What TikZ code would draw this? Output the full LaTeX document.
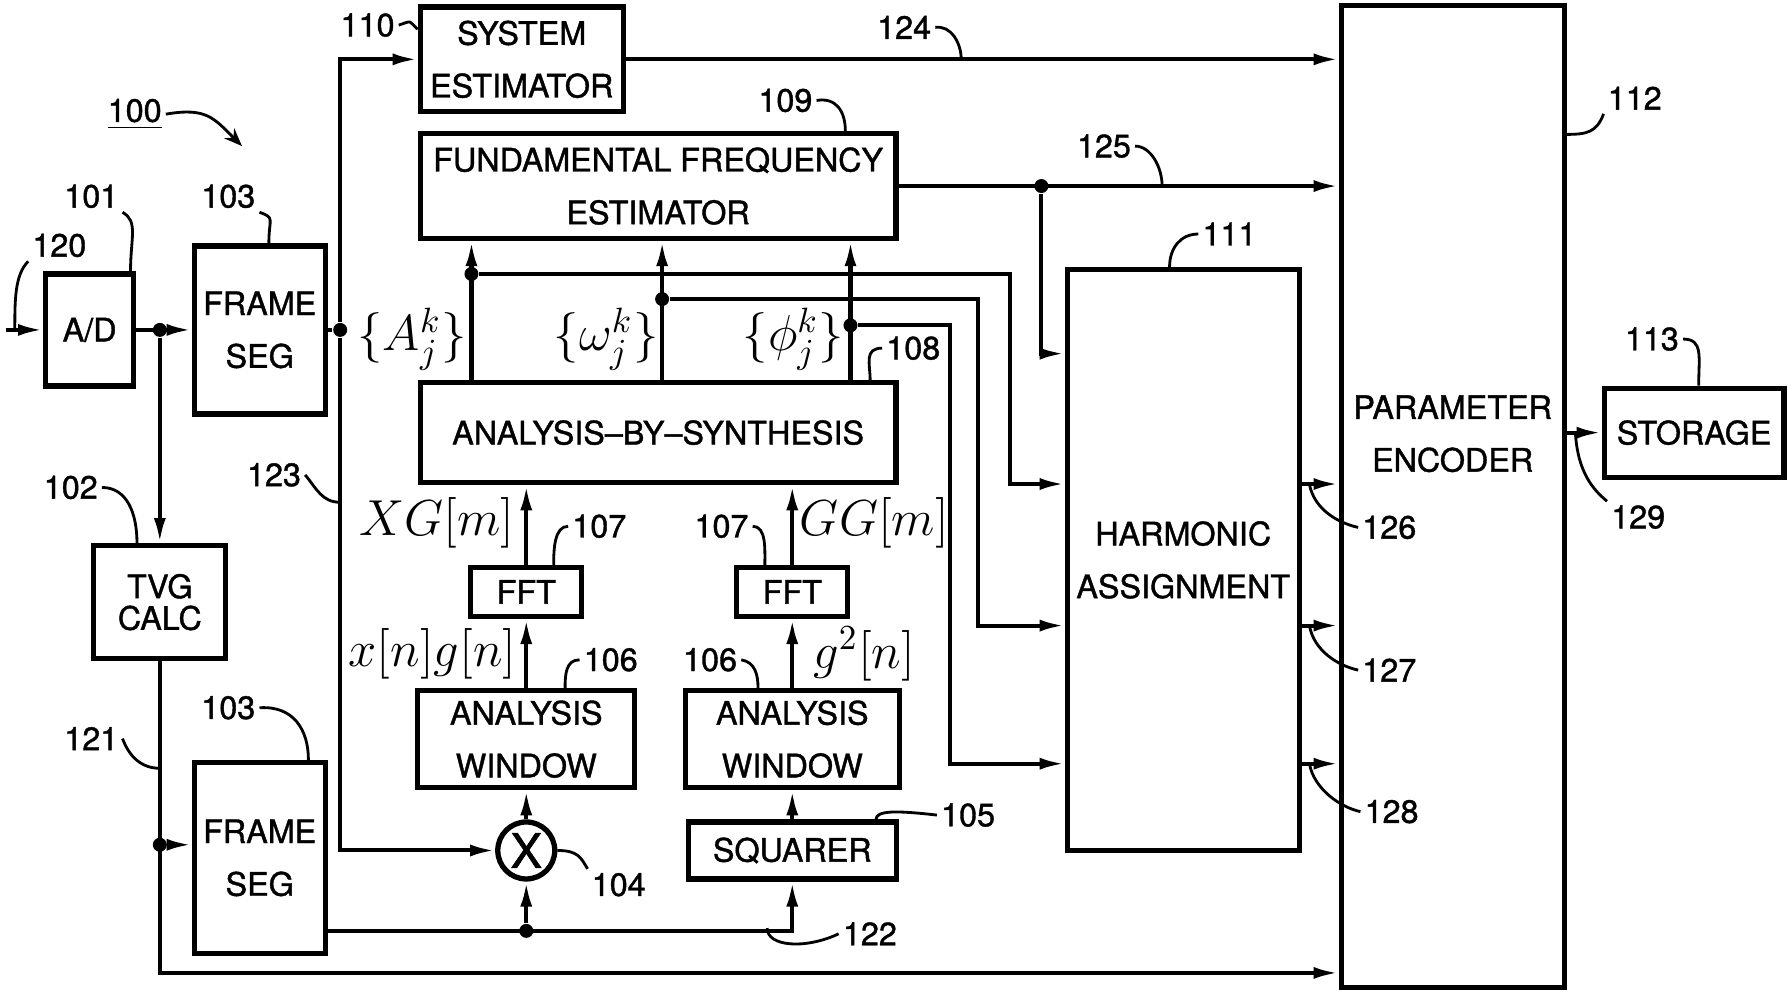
\documentclass[tikz,border=0pt]{standalone}
\usepackage[no-math]{fontspec}
\setmainfont{TeX Gyre Heros}[FakeBold=1.2]
\usetikzlibrary{arrows.meta, calc}

\begin{document}
\begin{tikzpicture}[
        x=0.1142mm, y=-0.1142mm,
        block/.style={rectangle, draw=black, line width=1.5pt, inner sep=0pt, align=center, font=\fontsize{9.2}{15}\selectfont},
        num/.style={inner sep=1pt, font=\fontsize{9.2}{11}\selectfont},
        sym/.style={inner sep=0pt, font=\fontsize{14.4}{16}\selectfont},
        dot/.style={circle, fill=black, inner sep=0pt, minimum size=1.4mm},
        wire/.style={draw=black, line width=1.15pt},
        line/.style={wire, -{Latex[length=2.5mm, width=1.2mm]}},
        lead/.style={draw=black, line width=0.8pt}
    ]
        \useasboundingbox (0,0) rectangle (1568,867);

        \node [block, minimum width=8.8mm, minimum height=11.2mm] (ad) at (78.5,289) {A/D};
        \node [block, minimum width=13.1mm, minimum height=16.8mm] (seg1) at (227.5,289) {FRAME\\SEG};
        \node [block, minimum width=13.2mm, minimum height=11.3mm, font=\fontsize{9.2}{9}\selectfont] (tvg) at (140,527.5) {TVG\\CALC};
        \node [block, minimum width=13.1mm, minimum height=19.1mm] (seg2) at (227.5,751.5) {FRAME\\SEG};
        \node [block, minimum width=20.3mm, minimum height=10.5mm] (sysest) at (457,52) {SYSTEM\\ESTIMATOR};
        \node [block, minimum width=47.6mm, minimum height=10.5mm] (ffe) at (576.5,163) {FUNDAMENTAL FREQUENCY\\ESTIMATOR};
        \node [block, minimum width=47.6mm, minimum height=10mm] (abs) at (576.5,379) {ANALYSIS--BY--SYNTHESIS};
        \node [block, minimum width=11.1mm, minimum height=4.9mm] (fftA) at (461,518.5) {FFT};
        \node [block, minimum width=11.1mm, minimum height=4.9mm] (fftB) at (694,518.5) {FFT};
        \node [block, minimum width=21.7mm, minimum height=9.7mm] (winA) at (461,647.5) {ANALYSIS\\WINDOW};
        \node [block, minimum width=21.4mm, minimum height=9.7mm] (winB) at (694,647.5) {ANALYSIS\\WINDOW};
        \node [block, minimum width=20.8mm, minimum height=5.7mm] (sq) at (694,745) {SQUARER};
        \node [block, circle, minimum size=5.7mm, font=\fontsize{13.5}{13.5}\selectfont] (mult) at (461,745) {X};
        \node [block, minimum width=23.2mm, minimum height=58.1mm] (harm) at (1036.5,490.5) {HARMONIC\\ASSIGNMENT};
        \node [block, minimum width=22.3mm, minimum height=98.2mm] (pe) at (1272.5,435) {};
        \node [align=center, font=\fontsize{9.2}{15}\selectfont] (petext) at (1272.5,380) {PARAMETER\\ENCODER};
        \node [block, minimum width=18mm, minimum height=8.9mm] (store) at (1484,379) {STORAGE};

        \coordinate (src) at (5,289);
        \draw[line] (src) -- (ad);
        \node [dot] (d1) at (ad.east -| tvg) {};
        \draw[line] (ad) -- (seg1);
        \draw[line] (d1) -- (tvg);
        \node [dot] (d2) at (298,289) {};
        \draw[wire] (seg1) -- (d2);
        \draw[line] (d2) |- (sysest);
        \draw[line] (d2) |- (mult);
        \draw[line] (tvg) |- ($(pe.south west)+(0,-15)$);
        \node [dot] (d3) at (140,740) {};
        \draw[line] (d3) -- (d3 -| seg2.west);
        \coordinate (s2out) at ($(seg2.south east)+(0,-22)$);
        \draw[line] (s2out) -| (sq);
        \node [dot] (d4) at (s2out -| mult) {};
        \draw[line] (d4) -- (mult);
        \draw[line] (mult) -- (winA);
        \draw[line] (winA) -- (fftA);
        \draw[line] (fftA) -- (fftA |- abs.south);
        \draw[line] (sq) -- (winB);
        \draw[line] (winB) -- (fftB);
        \draw[line] (fftB) -- (fftB |- abs.south);

        \node [dot] (dA) at (413,240) {};
        \node [dot] (dB) at (580,262) {};
        \node [dot] (dC) at (745,285) {};
        \draw[line] (dA |- abs.north) -- (dA |- ffe.south);
        \draw[line] (dB |- abs.north) -- (dB |- ffe.south);
        \draw[line] (dC |- abs.north) -- (dC |- ffe.south);
        \coordinate (kA) at (885,424);
        \coordinate (kB) at (857,548);
        \coordinate (kC) at (832,669);
        \draw[line] (dA) -| (kA) -- (kA -| harm.west);
        \draw[line] (dB) -| (kB) -- (kB -| harm.west);
        \draw[line] (dC) -| (kC) -- (kC -| harm.west);

        \draw[line] (sysest) -- (sysest -| pe.west);
        \draw[line] (ffe) -- (ffe -| pe.west);
        \node [dot] (dF) at ($(ffe.east)+(125,0)$) {};
        \draw[line] (dF) |- ($(harm.north west)+(0,76)$);
        \draw[line] (kA -| harm.east) -- (kA -| pe.west);
        \draw[line] (kB -| harm.east) -- (kB -| pe.west);
        \draw[line] (kC -| harm.east) -- (kC -| pe.west);
        \draw[line] (pe.east |- store) -- (store);

        \node [sym] (xg) at (383,458) {$XG[m]$};
        \node [sym] (xngn) at (379,573) {$x[n]g[n]$};
        \node [sym] (gg) at (766,458) {$GG[m]$};
        \node [sym] (g2) at (757,573) {$g^2[n]$};
        \node [sym] (amp) at (361,297) {$\{A_j^k\}$};
        \node [sym] (frq) at (531,297) {$\{\omega_j^k\}$};
        \node [sym] (phs) at (695,297) {$\{\phi_j^k\}$};

        \node [num] (l100) at (118,100) {\underline{100}};
        \node [num] (l101) at (80,172) {101};
        \node [num] (l120) at (52,215) {120};
        \node [num] (l103a) at (200,172) {103};
        \node [num] (l110) at (322,22) {110};
        \node [num] (l124) at (792,24) {124};
        \node [num] (l109) at (688,88) {109};
        \node [num] (l125) at (967,128) {125};
        \node [num] (l111) at (1077,205) {111};
        \node [num] (l112) at (1432,86) {112};
        \node [num] (l113) at (1447,297) {113};
        \node [num] (l108) at (800,305) {108};
        \node [num] (l102) at (62,427) {102};
        \node [num] (l123) at (240,416) {123};
        \node [num] (l107a) at (525,461) {107};
        \node [num] (l107b) at (632,461) {107};
        \node [num] (l106a) at (535,578) {106};
        \node [num] (l106b) at (622,578) {106};
        \node [num] (l105) at (848,714) {105};
        \node [num] (l104) at (542,775) {104};
        \node [num] (l121) at (80,647) {121};
        \node [num] (l103b) at (200,620) {103};
        \node [num] (l122) at (762,818) {122};
        \node [num] (l126) at (1217,462) {126};
        \node [num] (l127) at (1217,587) {127};
        \node [num] (l128) at (1219,711) {128};
        \node [num] (l129) at (1435,453) {129};

        \coordinate (c120) at (13,289);
        \coordinate (c100) at (212,128);
        \coordinate (c124) at (842,52);
        \coordinate (c125) at (1018,163);
        \coordinate (c123) at (298,440);
        \coordinate (c121) at (140,673);
        \coordinate (c122) at (672,813);
        \coordinate (c126) at (1147,424);
        \coordinate (c127) at (1147,548);
        \coordinate (c128) at (1147,669);
        \coordinate (c129) at (1380,379);

        \draw[lead] (l120.south west) .. controls +(-12,12) and +(0,-25) .. (c120);
        \draw[lead] (l101.south east) .. controls +(14,8) and +(0,-30) .. ($(ad.north east)+(-5,0)$);
        \draw[lead] (l103a.south east) .. controls +(14,5) and +(0,-22) .. ($(seg1.north)+(8,0)$);
        \draw[lead] (l110.east) .. controls +(12,-4) and +(-8,-8) .. ($(sysest.north west)+(0,22)$);
        \draw[lead, -{Stealth[length=1.8mm, width=1.4mm]}] (l100.east) .. controls +(35,-6) and +(-25,-25) .. (c100);
        \draw[lead] (l124.east) .. controls +(14,-2) and +(0,-14) .. (c124);
        \draw[lead] (l109.east) .. controls +(18,-3) and +(0,-16) .. ($(ffe.north)+(164,0)$);
        \draw[lead] (l125.east) .. controls +(14,0) and +(0,-16) .. (c125);
        \draw[lead] (l111.west) .. controls +(-16,0) and +(0,-16) .. ($(harm.north)+(-12,0)$);
        \draw[lead] (l112.south west) .. controls +(-6,16) and +(18,0) .. ($(pe.north east)+(0,115)$);
        \draw[lead] (l113.east) .. controls +(18,0) and +(0,-25) .. ($(store.north)+(4,0)$);
        \draw[lead] (l108.west) .. controls +(-16,0) and +(0,-14) .. ($(abs.north east)+(-25,0)$);
        \draw[lead] (l102.east) .. controls +(22,0) and +(0,-26) .. ($(tvg.north)+(-20,0)$);
        \draw[lead] (l123.east) .. controls +(10,12) and +(-16,0) .. (c123);
        \draw[lead] (l107a.west) .. controls +(-12,0) and +(0,-14) .. ($(fftA.north)+(24,0)$);
        \draw[lead] (l107b.east) .. controls +(12,0) and +(0,-14) .. ($(fftB.north)+(-24,0)$);
        \draw[lead] (l106a.west) .. controls +(-12,0) and +(0,-12) .. ($(winA.north)+(34,0)$);
        \draw[lead] (l106b.east) .. controls +(12,2) and +(0,-12) .. ($(winB.north)+(-30,0)$);
        \draw[lead] (l105.west) .. controls +(-35,-4) and +(0,-8) .. ($(sq.north east)+(-20,0)$);
        \draw[lead] (mult.east) .. controls +(18,0) and +(-6,-10) .. (l104.north west);
        \draw[lead] (l121.east) .. controls +(6,16) and +(-16,0) .. (c121);
        \draw[lead] (l103b.east) .. controls +(30,-2) and +(0,-26) .. ($(seg2.north east)+(-17,0)$);
        \draw[lead] (l122.west) .. controls +(-30,14) and +(0,16) .. (c122);
        \draw[lead] (c126) .. controls +(4,22) and +(-18,-4) .. (l126.west);
        \draw[lead] (c127) .. controls +(4,22) and +(-18,-4) .. (l127.west);
        \draw[lead] (c128) .. controls +(4,22) and +(-18,-4) .. (l128.west);
        \draw[lead] (c129) .. controls +(2,35) and +(-12,-10) .. (l129.north west);
    \end{tikzpicture}
\end{document}
